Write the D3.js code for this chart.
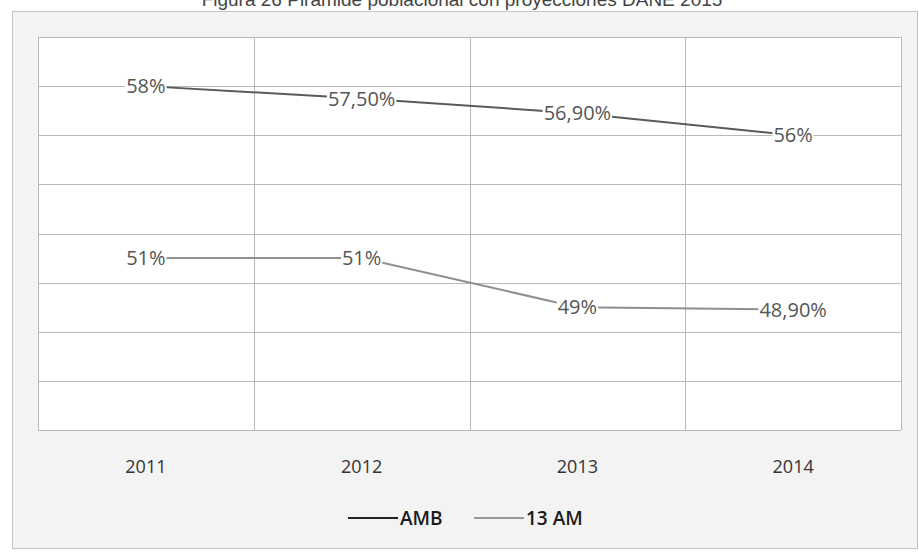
<!doctype html>
<html>
<head>
<meta charset="utf-8">
<style>
  body { margin: 0; background: #fff; }
  svg { display: block; }
  .lbl { font-family: "Open Sans", sans-serif; font-size: 20px; fill: #555; }
  .cat { font-family: "Open Sans", sans-serif; font-size: 18px; fill: #333; }
  .leg { font-family: "Liberation Sans Narrow", "Open Sans", sans-serif; font-size: 19px; font-weight: 600; fill: #1a1a1a; }
</style>
<script src="https://cdn.jsdelivr.net/npm/d3@7"></script>
</head>
<body>
<svg width="919" height="552"></svg>
<script>
// values
var years = ["2011", "2012", "2013", "2014"];
var amb = [58, 57.5, 56.9, 56];
var am13 = [51, 51, 49, 48.9];
var yTicks = [44, 46, 48, 50, 52, 54, 56, 58, 60];
var seriesNames = ["AMB", "13 AM"];
var seriesColors = ["#5a5a5a", "#8f8f8f"];
var legendColors = ["#222", "#999"];

var svg = d3.select("svg");

// chart panel
svg.append("rect")
   .attr("x", 12.5).attr("y", 11.5)
   .attr("width", 905).attr("height", 537)
   .attr("fill", "#f3f3f3")
   .attr("stroke", "#c4c4c4");

// title, cut off at the top edge as in the scan
svg.append("text")
   .attr("x", 462)
   .attr("y", 6)
   .attr("text-anchor", "middle")
   .attr("font-family", "Liberation Sans, Arial, sans-serif")
   .attr("font-size", "19px")
   .attr("fill", "#444")
   .text("Figura 26 Pirámide poblacional con proyecciones DANE 2015");

var pLeft = 38, pRight = 901, pTop = 37, pBottom = 430;

var x = d3.scaleBand().domain(years).range([pLeft, pRight]).paddingInner(0).paddingOuter(0);
var y = d3.scaleLinear().domain([44, 60]).range([pBottom, pTop]);

var g = svg.append("g");

g.append("rect")
 .attr("x", pLeft).attr("y", pTop)
 .attr("width", pRight - pLeft).attr("height", pBottom - pTop)
 .attr("fill", "#fff");

// horizontal grid
g.selectAll(".hgrid")
 .data(yTicks)
 .enter().append("line")
 .attr("class", "hgrid")
 .attr("x1", pLeft).attr("x2", pRight)
 .attr("y1", function(d) { return Math.round(y(d)) + 0.5; })
 .attr("y2", function(d) { return Math.round(y(d)) + 0.5; })
 .attr("stroke", "#b8b8b8")
 .attr("stroke-width", 1);

// vertical grid at category boundaries
var bounds = years.map(function(d) { return x(d); }).concat([pRight]);
g.selectAll(".vgrid")
 .data(bounds)
 .enter().append("line")
 .attr("class", "vgrid")
 .attr("x1", function(d) { return Math.round(d) + 0.5; })
 .attr("x2", function(d) { return Math.round(d) + 0.5; })
 .attr("y1", pTop).attr("y2", pBottom)
 .attr("stroke", "#b8b8b8")
 .attr("stroke-width", 1);

// category axis
var xAxis = svg.append("g")
   .attr("transform", "translate(0," + (pBottom + 43) + ")")
   .call(d3.axisBottom(x).tickSize(0).tickPadding(0));
xAxis.select(".domain").remove();
xAxis.selectAll("text")
     .attr("class", "cat")
     .attr("dy", 0)
     .attr("fill", null);

function fmt(v) {
    if (v === Math.round(v)) return v + "%";
    return v.toFixed(2).replace(".", ",") + "%";
}

var cx = function(d, i) { return x(years[i]) + x.bandwidth() / 2; };

var line = d3.line()
    .x(function(d, i) { return cx(d, i); })
    .y(function(d) { return y(d); });

var series = [amb, am13];

series.forEach(function(vals, s) {
    g.append("path")
     .datum(vals)
     .attr("d", line)
     .attr("fill", "none")
     .attr("stroke", seriesColors[s])
     .attr("stroke-width", 2);
});

// data labels, centred on the points with a white backing like the original
series.forEach(function(vals, s) {
    var lab = g.selectAll(".lab" + s)
       .data(vals)
       .enter().append("g")
       .attr("class", "lab" + s)
       .attr("transform", function(d, i) { return "translate(" + cx(d, i) + "," + y(d) + ")"; });
    lab.append("text")
       .attr("class", "lbl")
       .attr("text-anchor", "middle")
       .attr("dy", "0.36em")
       .text(function(d) { return fmt(d); });
    lab.each(function() {
        var t = d3.select(this).select("text");
        var b = t.node().getBBox();
        d3.select(this).insert("rect", "text")
          .attr("x", b.x - 1).attr("y", b.y + 4)
          .attr("width", b.width + 2).attr("height", b.height - 8)
          .attr("fill", "#fff");
    });
});

// legend
var legY = 518;
var legX = [348, 474];
var legend = svg.selectAll(".legend")
   .data(seriesNames)
   .enter().append("g")
   .attr("class", "legend")
   .attr("transform", function(d, i) { return "translate(" + legX[i] + "," + legY + ")"; });
legend.append("line")
   .attr("x1", 0).attr("x2", 50)
   .attr("stroke", function(d, i) { return legendColors[i]; })
   .attr("stroke-width", 2);
legend.append("text")
   .attr("class", "leg")
   .attr("x", 52)
   .attr("dy", "0.36em")
   .text(function(d) { return d; });
</script>
</body>
</html>
